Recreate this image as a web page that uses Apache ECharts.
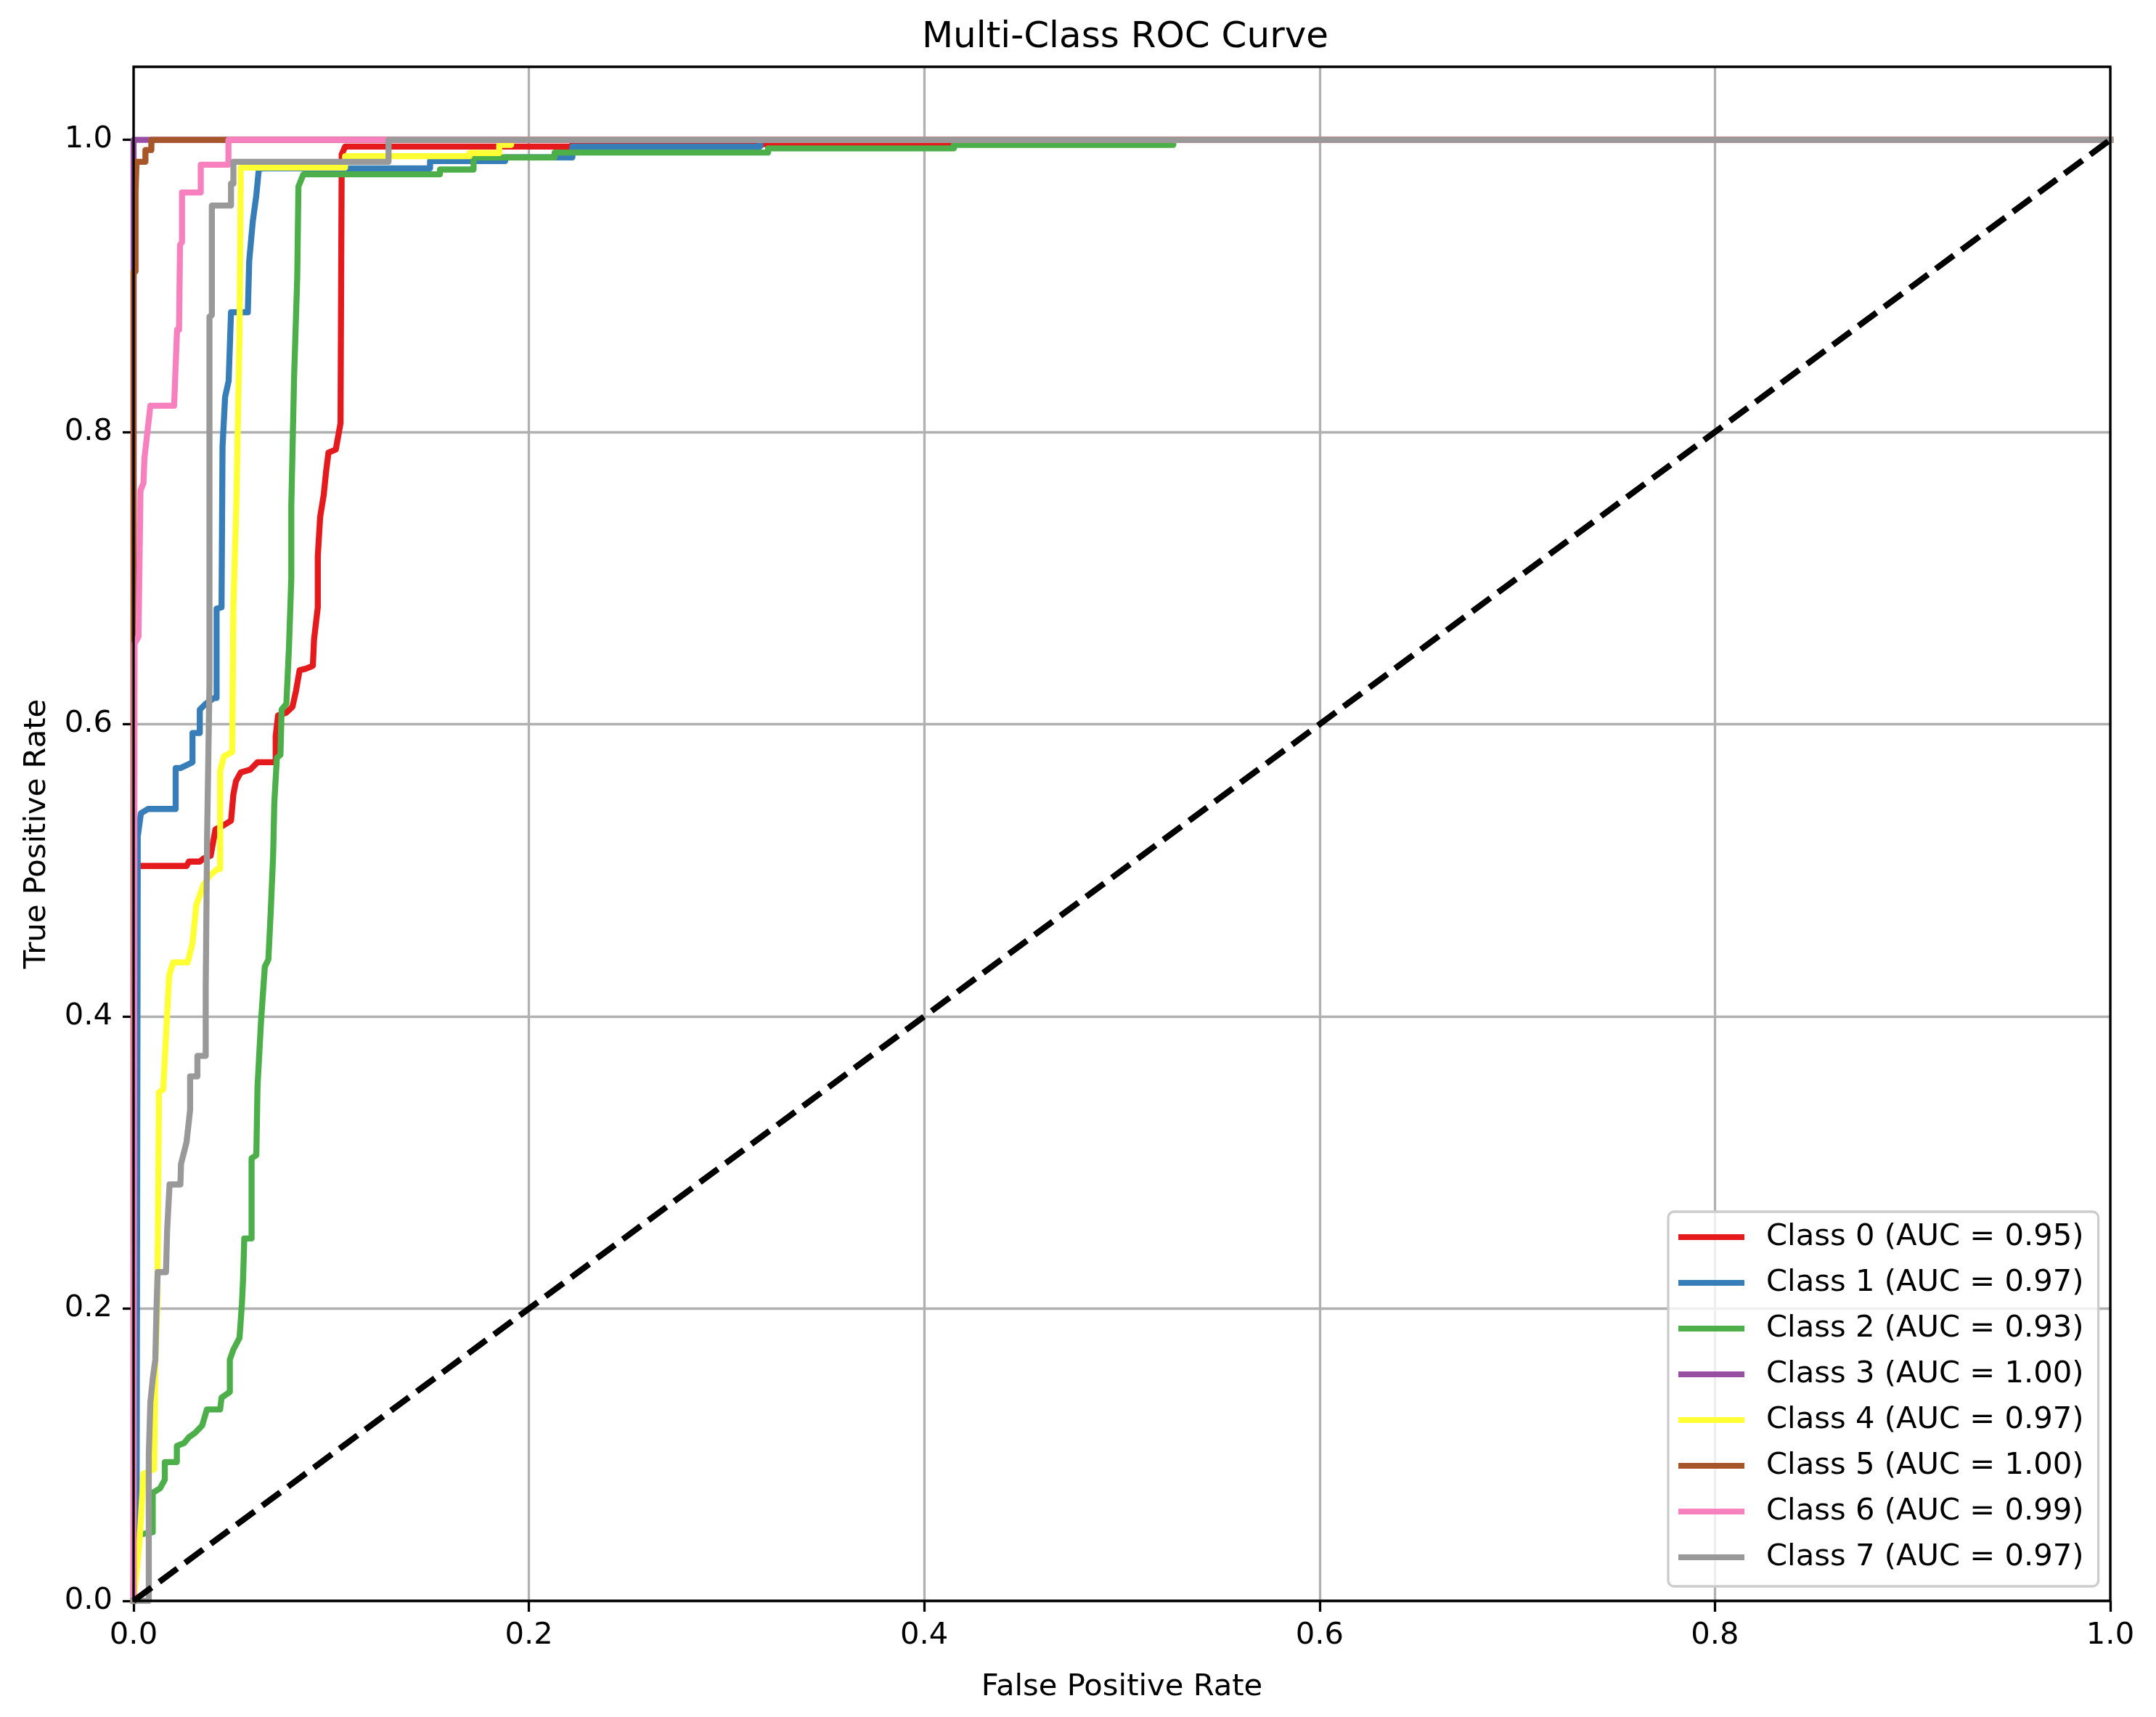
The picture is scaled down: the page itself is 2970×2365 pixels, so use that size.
<!DOCTYPE html>
<html lang="en">
<head>
  <meta charset="UTF-8">
  <title>Multi-Class ROC Curve</title>
  <script src="https://cdn.jsdelivr.net/npm/echarts@6/dist/echarts.min.js"></script>
  <style>
    html, body { margin: 0; padding: 0; background: #fff; }
    #chart { width: 2970px; height: 2365px; }
  </style>
</head>
<body>
  <div id="chart"></div>
  <script>
    // tick labels
    const xTicks = [0, 0.2, 0.4, 0.6, 0.8, 1.0];
    const yTicks = [0, 0.2, 0.4, 0.6, 0.8, 1.0];

    const classNames = [
      'Class 0 (AUC = 0.95)', 'Class 1 (AUC = 0.97)', 'Class 2 (AUC = 0.93)', 'Class 3 (AUC = 1.00)',
      'Class 4 (AUC = 0.97)', 'Class 5 (AUC = 1.00)', 'Class 6 (AUC = 0.99)', 'Class 7 (AUC = 0.97)'
    ];
    const colors = ['#e41a1c', '#377eb8', '#4daf4a', '#984ea3', '#ffff33', '#a65628', '#f781bf', '#999999'];

    // [fpr, tpr]
    const class0 = [[0,0],[0.001,0.40],[0.0015,0.50],[0.0024,0.503],[0.0268,0.503],[0.028,0.506],[0.0335,0.506],
      [0.0353,0.508],[0.039,0.51],[0.0414,0.528],[0.0457,0.531],[0.0493,0.534],[0.0505,0.552],[0.0518,0.561],
      [0.0542,0.567],[0.0591,0.569],[0.0627,0.574],[0.0719,0.574],[0.0719,0.592],[0.0731,0.606],[0.0773,0.608],
      [0.0804,0.612],[0.0822,0.623],[0.084,0.637],[0.0871,0.638],[0.0907,0.64],[0.0913,0.658],[0.0932,0.68],
      [0.0932,0.715],[0.0944,0.742],[0.0962,0.757],[0.0974,0.773],[0.0986,0.786],[0.1023,0.788],[0.1047,0.806],
      [0.1053,0.99],[0.107,0.9954],[0.222,0.9954],[0.222,0.997],[0.413,0.997],[0.413,1.0],[1,1]];
    const class1 = [[0,0],[0.0015,0.04],[0.0021,0.50],[0.0021,0.523],[0.0037,0.539],[0.0073,0.542],[0.0213,0.542],
      [0.0213,0.570],[0.0237,0.570],[0.0298,0.574],[0.0298,0.594],[0.0335,0.594],[0.0335,0.61],[0.0365,0.614],
      [0.0408,0.618],[0.042,0.618],[0.042,0.679],[0.0445,0.68],[0.045,0.79],[0.0463,0.824],[0.0481,0.835],
      [0.0493,0.882],[0.0578,0.882],[0.0585,0.917],[0.0603,0.944],[0.0621,0.962],[0.0633,0.979],[0.0645,0.9805],
      [0.150,0.9805],[0.150,0.9855],[0.188,0.9855],[0.188,0.988],[0.222,0.988],[0.222,0.9954],[0.317,0.9954],
      [0.317,1.0],[1,1]];
    const class2 = [[0,0],[0.0012,0.03],[0.0018,0.045],[0.0097,0.047],[0.0097,0.074],[0.0134,0.077],[0.0158,0.083],
      [0.0158,0.095],[0.0219,0.095],[0.0219,0.106],[0.0256,0.108],[0.028,0.112],[0.0311,0.115],[0.0347,0.12],
      [0.0371,0.131],[0.0438,0.131],[0.0445,0.139],[0.0487,0.143],[0.0487,0.165],[0.0505,0.172],[0.0536,0.18],
      [0.0548,0.203],[0.0554,0.22],[0.056,0.248],[0.0597,0.248],[0.0597,0.303],[0.0621,0.305],[0.0627,0.352],
      [0.0645,0.397],[0.0664,0.434],[0.0682,0.439],[0.0694,0.472],[0.0706,0.51],[0.0712,0.546],[0.0725,0.577],
      [0.0743,0.579],[0.0749,0.61],[0.0773,0.614],[0.0786,0.652],[0.0798,0.70],[0.0798,0.75],[0.0812,0.837],
      [0.0828,0.906],[0.0834,0.968],[0.0859,0.9764],[0.155,0.9764],[0.155,0.9797],[0.172,0.9797],[0.172,0.988],
      [0.213,0.988],[0.213,0.9913],[0.321,0.9913],[0.321,0.9942],[0.415,0.9942],[0.415,0.9965],[0.526,0.9965],
      [0.526,1.0],[1,1]];
    const class3 = [[0,0],[0,1],[1,1]];
    const class4 = [[0,0],[0.0015,0.02],[0.003,0.04],[0.005,0.087],[0.0104,0.09],[0.011,0.163],[0.012,0.2],
      [0.0128,0.336],[0.0128,0.348],[0.015,0.35],[0.018,0.428],[0.020,0.437],[0.0274,0.437],[0.0298,0.450],
      [0.0317,0.476],[0.0335,0.483],[0.0353,0.49],[0.039,0.497],[0.0426,0.501],[0.0438,0.501],[0.0438,0.568],
      [0.0457,0.578],[0.0499,0.581],[0.0505,0.68],[0.052,0.75],[0.0536,0.866],[0.0542,0.970],[0.0542,0.981],
      [0.107,0.981],[0.107,0.9888],[0.170,0.9888],[0.170,0.991],[0.185,0.991],[0.185,0.9965],[0.191,0.9965],
      [0.191,1.0],[1,1]];
    const class5 = [[0,0],[0,0.91],[0.001,0.91],[0.001,0.965],[0.0015,0.985],[0.006,0.985],[0.006,0.993],
      [0.009,0.993],[0.009,1.0],[1,1]];
    const class6 = [[0,0],[0.0005,0.655],[0.0025,0.66],[0.0035,0.76],[0.005,0.765],[0.0055,0.782],[0.007,0.80],
      [0.0085,0.818],[0.0205,0.818],[0.021,0.835],[0.022,0.87],[0.023,0.87],[0.0235,0.928],[0.0245,0.93],
      [0.0245,0.964],[0.034,0.964],[0.034,0.983],[0.048,0.983],[0.048,1.0],[1,1]];
    const class7 = [[0,0],[0.0077,0],[0.0077,0.10],[0.0085,0.136],[0.0097,0.152],[0.0110,0.165],[0.0116,0.2],
      [0.0122,0.225],[0.0164,0.225],[0.0170,0.254],[0.0182,0.285],[0.0237,0.285],[0.0240,0.299],[0.0268,0.314],
      [0.0286,0.336],[0.0286,0.359],[0.0323,0.359],[0.0323,0.373],[0.0365,0.373],[0.0365,0.419],[0.0372,0.523],
      [0.0384,0.628],[0.0384,0.879],[0.0396,0.880],[0.0396,0.955],[0.0493,0.955],[0.0493,0.970],[0.0505,0.970],
      [0.0505,0.985],[0.129,0.985],[0.129,1.0],[1,1]];
    const chance = [[0,0],[1,1]];

    const curves = [class0, class1, class2, class3, class4, class5, class6, class7];

    const FONT = 'DejaVu Sans';
    const LW = 8.33;

    var myChart = echarts.init(document.getElementById('chart'));

    const series = curves.map((data, i) => ({
      name: classNames[i],
      type: 'line',
      data: data,
      showSymbol: false,
      symbol: 'none',
      color: colors[i],
      itemStyle: { color: colors[i] },
      lineStyle: { color: colors[i], width: LW, join: 'round', cap: 'square' },
      z: 2
    }));
    series.push({
      name: 'chance',
      type: 'line',
      data: chance,
      showSymbol: false,
      symbol: 'none',
      lineStyle: { color: '#000', width: LW, type: [30.8, 13.3] },
      z: 2
    });

    var option = {
      animation: false,
      backgroundColor: '#fff',
      textStyle: { fontFamily: FONT },
      title: {
        text: 'Multi-Class ROC Curve',
        left: 1545,
        textAlign: 'center',
        top: 22,
        textStyle: { fontFamily: FONT, fontSize: 50, fontWeight: 'normal', color: '#000' }
      },
      grid: {
        left: 184, right: 63, top: 92, bottom: 160,
        show: true, borderColor: '#000', borderWidth: 3.3, backgroundColor: 'transparent', z: 3
      },
      legend: {
        data: classNames,
        orient: 'vertical',
        left: 2298,
        top: 1669,
        padding: [14, 20, 19, 14],
        itemGap: 21,
        itemWidth: 91,
        itemHeight: 8,
        icon: 'rect',
        backgroundColor: 'rgba(255,255,255,0.8)',
        borderColor: '#cccccc',
        borderWidth: 3.3,
        borderRadius: 8,
        textStyle: { fontFamily: FONT, fontSize: 41.7, lineHeight: 42, color: '#000', padding: [0, 0, 0, 25] }
      },
      xAxis: {
        type: 'value',
        min: 0, max: 1, interval: 0.2,
        name: 'False Positive Rate',
        nameLocation: 'middle',
        nameGap: 98,
        nameTextStyle: { fontFamily: FONT, fontSize: 41.7, color: '#000' },
        axisLine: { show: false },
        axisTick: { show: true, inside: false, length: 15, customValues: xTicks,
          lineStyle: { color: '#000', width: 3.3 } },
        axisLabel: { show: true, margin: 27, customValues: xTicks, fontFamily: FONT, fontSize: 41.7, color: '#000',
          formatter: v => v.toFixed(1) },
        splitLine: { show: true, lineStyle: { color: '#b0b0b0', width: 3.3 } }
      },
      yAxis: {
        type: 'value',
        min: 0, max: 1.05, interval: 0.2,
        name: 'True Positive Rate',
        nameLocation: 'middle',
        nameGap: 112,
        nameTextStyle: { fontFamily: FONT, fontSize: 41.7, color: '#000' },
        axisLine: { show: false },
        axisTick: { show: true, inside: false, length: 15, customValues: yTicks,
          lineStyle: { color: '#000', width: 3.3 } },
        axisLabel: { show: true, margin: 29, customValues: yTicks, fontFamily: FONT, fontSize: 41.7, color: '#000',
          formatter: v => v.toFixed(1) },
        splitLine: { show: true, lineStyle: { color: '#b0b0b0', width: 3.3 } }
      },
      series: series
    };

    myChart.setOption(option);
  </script>
</body>
</html>
